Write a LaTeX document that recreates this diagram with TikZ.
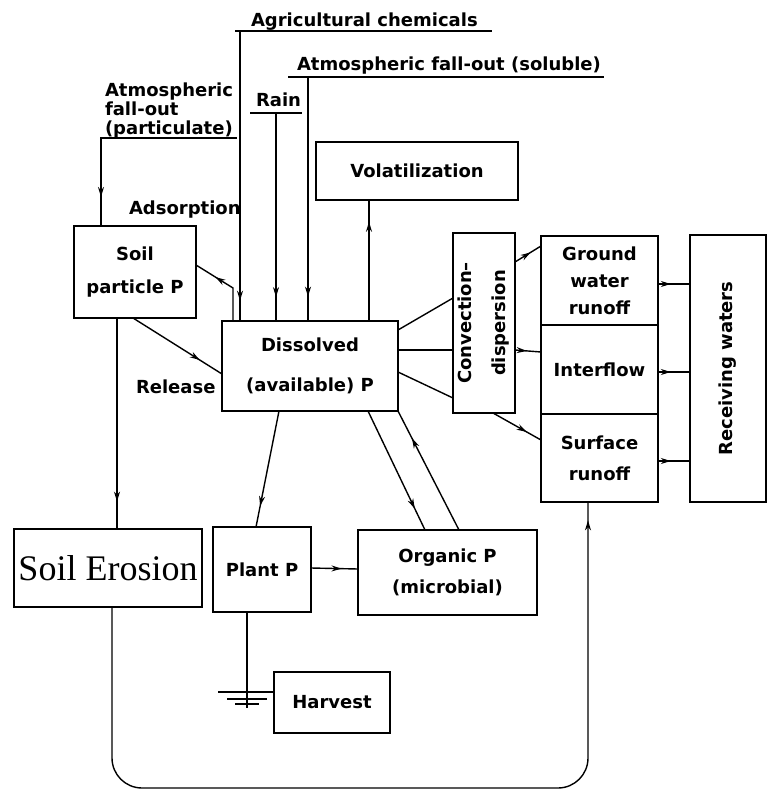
\documentclass[tikz,border=0pt]{standalone}
\usepackage{fontspec}
\setmainfont{DejaVu Sans}
\newfontfamily\erofont{Liberation Serif}
\usetikzlibrary{arrows.meta,decorations.markings}

\tikzset{
  box/.style={draw, line width=1.8pt, inner sep=0pt, outer sep=0pt, align=center,
    font=\fontsize{18}{21}\selectfont\bfseries},
  thickbox/.style={box, line width=2.8pt},
  lbl/.style={inner sep=0pt, outer sep=0pt, font=\fontsize{18}{19}\selectfont\bfseries},
  flow/.style={line width=1.4pt},
  midarrow/.style={flow, postaction={decorate},
    decoration={markings, mark=at position #1 with {\arrow{Stealth[length=10pt,width=6pt]}}}},
}

\begin{document}
\begin{tikzpicture}[x=1pt, y=-1pt]
\useasboundingbox (0,0) rectangle (767,791);

% boxes
\node[thickbox, minimum width=122pt, minimum height=92pt] (soil) at (135,272) {Soil\\[12pt]particle P};
\node[thickbox, minimum width=176pt, minimum height=90pt] (diss) at (310,366) {Dissolved\\[19pt](available) P};
\node[box, minimum width=202pt, minimum height=58pt] (vol) at (417,171) {Volatilization};
\node[box, rotate=90, minimum width=180pt, minimum height=62pt] (conv) at (484,323) {Convection--\\[13pt]dispersion};
\node[box, minimum width=117pt, minimum height=89pt] (gw) at (599.5,280.5) {Ground\\[6pt]water\\[6pt]runoff};
\node[box, minimum width=117pt, minimum height=89pt] (inter) at (599.5,369.5) {Interflow};
\node[box, minimum width=117pt, minimum height=88pt] (surf) at (599.5,458) {Surface\\[10pt]runoff};
\node[box, rotate=90, minimum width=267pt, minimum height=76pt] (recv) at (728,368.5) {Receiving waters};
\node[box, minimum width=188pt, minimum height=78pt, font={\erofont\fontsize{36}{40}\selectfont}] (ero) at (108,568) {Soil Erosion};
\node[box, minimum width=98pt, minimum height=85pt] (plant) at (262,569.5) {Plant P};
\node[box, minimum width=179pt, minimum height=85pt] (org) at (447.5,572.5) {Organic P\\[10pt](microbial)};
\node[box, minimum width=116pt, minimum height=61pt] (harv) at (332,702.5) {Harvest};

% inputs from above
\node[lbl, anchor=base west] (agchem) at (251,27) {Agricultural chemicals};
\node[lbl, anchor=base west] (soluble) at (297,71) {Atmospheric fall-out (soluble)};
\node[lbl, anchor=base west] (rain) at (256,107) {Rain};
\node[lbl, anchor=north west, align=left] (partic) at (105,83) {Atmospheric\\fall-out\\(particulate)};
\draw[flow] (235,31) -- (492,31);
\draw[flow] (288,77) -- (604,77);
\draw[flow] (250,113) -- (302,113);
\draw[flow] (100,138) -- (237,138);
\draw[midarrow=0.93] (240,31) -- (240,0 |- diss.north);
\draw[midarrow=0.9] (308,77) -- (308,0 |- diss.north);
\draw[midarrow=0.885] (276,113) -- (276,0 |- diss.north);
\draw[midarrow=0.67] (101,138) -- (101,0 |- soil.north);

% exchange with soil particles
\node[lbl, anchor=base west] (adsorp) at (129,215) {Adsorption};
\node[lbl, anchor=base west] (release) at (136,393) {Release};
\draw[midarrow=0.7] (233,0 |- diss.north) -- (233,288) -- (soil.east |- 0,265);
\draw[midarrow=0.75] (133,0 |- soil.south) -- (diss.west |- 0,374);
\draw[midarrow=0.82] (369,0 |- diss.north) -- (369,0 |- vol.south);

% transport
\draw[flow] (diss.east |- 0,330) -- (conv.north |- 0,298);
\draw[flow] (diss.east |- 0,350) -- (conv.north |- 0,350);
\draw[flow] (diss.east |- 0,372) -- (conv.north |- 0,398);
\draw[midarrow=0.6] (conv.south |- 0,262) -- (gw.west |- 0,246);
\draw[midarrow=0.45] (conv.south |- 0,350) -- (inter.west |- 0,352);
\draw[midarrow=0.7] (493,0 |- conv.west) -- (surf.west |- 0,440);
\foreach \y/\src in {284/gw, 372/inter, 461/surf}
  \draw[midarrow=0.4] (\src.east |- 0,\y) -- (recv.north |- 0,\y);

% plant and organic P
\draw[midarrow=0.82] (279,0 |- diss.south) -- (256,0 |- plant.north);
\draw[midarrow=0.82] (368,0 |- diss.south) -- (425,0 |- org.north);
\draw[midarrow=0.77] (459,0 |- org.north) -- (diss.south east);
\draw[midarrow=0.65] (plant.east |- 0,568) -- (org.west |- 0,569);
\draw[flow] (247,0 |- plant.south) -- (247,708);
\draw[flow] (218,692) -- (harv.west |- 0,692);
\foreach \y/\w in {699/20, 704/12}
  \draw[flow] (247-\w,\y) -- (247+\w,\y);

% erosion
\draw[midarrow=0.87] (117,0 |- soil.south) -- (117,0 |- ero.north);
\draw[midarrow=0.98, rounded corners=30pt] (112,0 |- ero.south) -- (112,788) -- (588,788) -- (588,0 |- surf.south);
\end{tikzpicture}
\end{document}
